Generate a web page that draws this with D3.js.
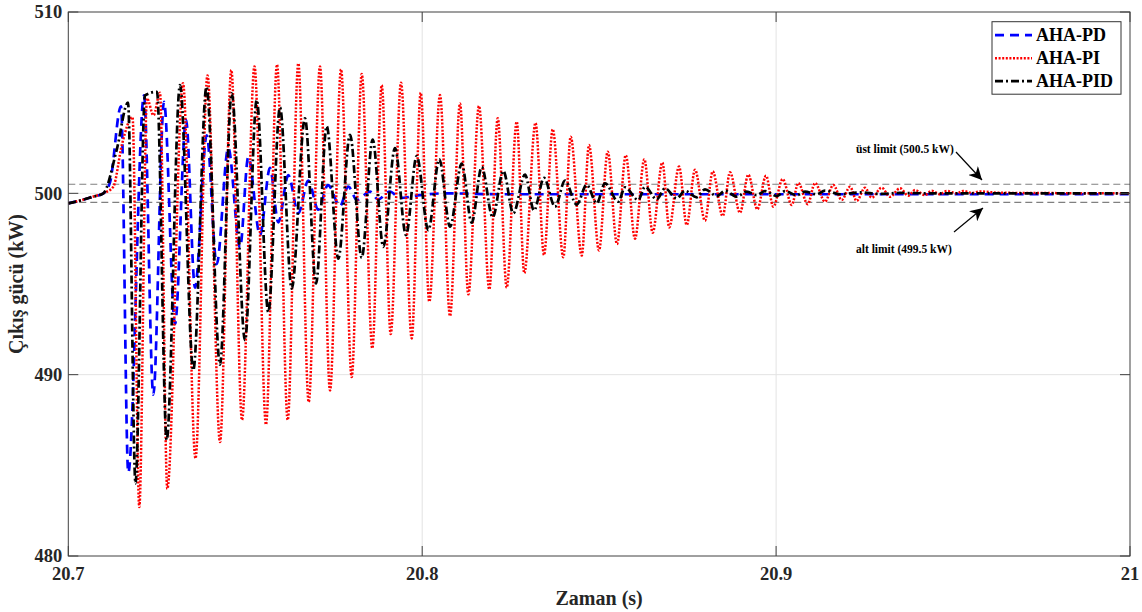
<!DOCTYPE html>
<html>
<head>
<meta charset="utf-8">
<script src="https://cdn.jsdelivr.net/npm/d3@7"></script>
<style>
  body { margin: 0; background: #fff; }
  text { font-family: "Liberation Serif", "Times New Roman", serif; font-weight: bold; }
</style>
</head>
<body>
<div id="chart"></div>
<script>
var width = 1142, height = 612;
var margin = {top: 12, right: 12, bottom: 56, left: 68.3};
var w = width - margin.left - margin.right,
    h = height - margin.top - margin.bottom;

// ---- data (time in s, power in kW) ----
var xTicks = [20.7, 20.8, 20.9, 21];
var xTickLabels = ["20.7", "20.8", "20.9", "21"];
var yTicks = [480, 490, 500, 510];
var limits = [500.5, 499.5];

var pdTime = [20.7, 20.7033, 20.7067, 20.7099, 20.71178, 20.71489, 20.71695, 20.72139, 20.72402, 20.72704,
  20.73015, 20.73326, 20.7358, 20.73911, 20.74193, 20.74521, 20.74852, 20.75086, 20.75417, 20.75699,
  20.75934, 20.76217, 20.76499, 20.76782, 20.77064, 20.77338, 20.77677, 20.77912, 20.78158, 20.78525,
  20.78751, 20.7909, 20.79373, 20.79938, 20.80644, 20.82199, 21.0];
var pdValue = [499.45, 499.6, 499.8, 500.0, 500.6, 504.8, 484.6, 505.4, 488.9, 505.05,
  492.8, 504.05, 494.8, 503.2, 496.1, 502.5, 497.0, 502.0, 497.7, 501.4,
  498.4, 501.0, 498.9, 500.7, 499.1, 500.45, 499.3, 500.37, 499.63, 500.09,
  499.67, 500.1, 499.75, 499.9, 500.0, 499.95, 499.95];

var piTime = [20.7, 20.7033, 20.7067, 20.7099, 20.71272, 20.71517, 20.71814, 20.72006, 20.72224, 20.72407,
  20.72591, 20.72797, 20.73241, 20.73594, 20.73933, 20.74287, 20.74606, 20.74908, 20.75261, 20.75586,
  20.75897, 20.762, 20.76499, 20.76793, 20.77112, 20.77395, 20.77706, 20.78008, 20.78291, 20.7859,
  20.78856, 20.7911, 20.79401, 20.79704, 20.79958, 20.80201, 20.80503, 20.80786, 20.81068, 20.81303,
  20.81605, 20.81896, 20.82134, 20.82388, 20.8267, 20.82885, 20.83202, 20.83442, 20.83688, 20.83987,
  20.84196, 20.84507, 20.84713, 20.84996, 20.85242, 20.85505, 20.85751, 20.86013, 20.86276, 20.86513,
  20.86785, 20.86982, 20.87257, 20.87474, 20.87709, 20.87991, 20.88209, 20.88491, 20.88698, 20.8898,
  20.89215, 20.89469, 20.89715, 20.89921, 20.90187, 20.90441, 20.90628, 20.90893, 20.91099, 20.91382,
  20.91617, 20.91854, 20.92089, 20.92278, 20.92512, 20.92702, 20.92984, 20.93219, 20.93501, 20.93736,
  20.93925, 20.94208, 20.94397, 20.94632, 20.94821, 20.95104, 20.9529, 20.95536, 20.95762, 20.96327, 21.0];
var piValue = [499.45, 499.6, 499.8, 500.0, 500.36, 502.7, 504.2, 482.7, 505.24, 504.3,
  505.55, 483.7, 506.07, 485.38, 506.5, 486.28, 506.8, 487.5, 507.0, 487.25,
  507.1, 487.5, 507.16, 488.49, 507.0, 489.13, 506.84, 489.87, 506.58, 491.45,
  505.97, 492.24, 506.1, 492.0, 505.55, 494.02, 505.42, 493.23, 504.96, 494.43,
  504.82, 494.7, 504.14, 494.8, 503.95, 495.6, 503.88, 496.6, 503.53, 496.47,
  503.12, 496.57, 502.66, 496.85, 502.3, 497.2, 502.1, 497.5, 501.88, 497.83,
  501.7, 498.12, 501.48, 498.25, 501.3, 498.49, 501.21, 498.75, 501.16, 498.93,
  501.03, 499.12, 500.97, 499.26, 500.79, 499.36, 500.57, 499.4, 500.57, 499.54,
  500.46, 499.63, 500.36, 499.58, 500.31, 499.76, 500.31, 499.81, 500.28, 499.87,
  500.18, 499.9, 500.14, 499.95, 500.13, 500.0, 500.13, 500.02, 500.1, 500.03, 500.0];

var pidTime = [20.7, 20.7033, 20.7067, 20.7099, 20.71368, 20.71687, 20.71899, 20.72167, 20.72506, 20.7278,
  20.73156, 20.73532, 20.73905, 20.74287, 20.74617, 20.74993, 20.75324, 20.75651, 20.75982, 20.76313,
  20.76688, 20.76999, 20.77302, 20.77629, 20.7796, 20.78291, 20.78601, 20.78901, 20.79231, 20.79542,
  20.79845, 20.80173, 20.80483, 20.80786, 20.81116, 20.81399, 20.81682, 20.81992, 20.82292, 20.82574,
  20.82905, 20.83159, 20.83442, 20.83753, 20.84035, 20.84366, 20.84648, 20.84931, 20.85165, 20.85541,
  20.85731, 20.86106, 20.86296, 20.86626, 20.86861, 20.87192, 20.87426, 20.87757, 20.87991, 20.88322,
  20.88556, 20.88887, 20.89169, 20.89452, 20.89687, 20.90017, 20.90252, 20.90582, 20.90817, 20.91148,
  20.91382, 20.91806, 20.92371, 20.92936, 20.93501, 20.94349, 21.0];
var pidValue = [499.45, 499.6, 499.8, 500.0, 502.4, 505.0, 484.0, 505.4, 505.6, 486.4,
  505.97, 490.25, 505.87, 490.55, 505.52, 491.9, 505.15, 493.45, 504.74, 494.75,
  504.14, 495.03, 503.7, 496.4, 503.23, 496.45, 502.97, 497.05, 502.5, 497.7,
  502.06, 497.97, 501.88, 498.16, 501.64, 498.38, 501.45, 498.68, 501.23, 498.9,
  501.03, 499.05, 500.85, 499.26, 500.7, 499.38, 500.47, 499.45, 500.55, 499.54,
  500.33, 499.63, 500.36, 499.67, 500.28, 499.72, 500.14, 499.78, 500.22, 499.85,
  500.14, 499.82, 500.09, 499.9, 500.12, 499.85, 500.12, 499.9, 500.09, 499.95,
  500.15, 499.95, 500.05, 499.97, 500.02, 500.0, 500.0];

var seriesNames = ["AHA-PD", "AHA-PI", "AHA-PID"];
var seriesColors = ["#0000ff", "#ff0000", "#000000"];
var seriesDash = ["9,6", "2,1.6", "8,3,2,3"];
var seriesWidth = [2.7, 2.5, 2.7];

function zip(t, v) { return t.map(function(d, i) { return {t: d, v: v[i]}; }); }
var series = [zip(pdTime, pdValue), zip(piTime, piValue), zip(pidTime, pidValue)];

var svg = d3.select("#chart").append("svg")
  .attr("width", width).attr("height", height);

var g = svg.append("g").attr("transform", "translate(" + margin.left + "," + margin.top + ")");

var x = d3.scaleLinear().domain([20.7, 21]).range([0, w]);
var y = d3.scaleLinear().domain([480, 510]).range([h, 0]);

svg.append("defs").append("clipPath").attr("id", "clip")
  .append("rect").attr("width", w).attr("height", h);

// grid
g.append("g").selectAll("line").data(xTicks.slice(1, -1)).enter().append("line")
  .attr("x1", d => x(d)).attr("x2", d => x(d)).attr("y1", 0).attr("y2", h)
  .attr("stroke", "#e3e3e3").attr("stroke-width", 1);
g.append("g").selectAll("line").data(yTicks.slice(1, -1)).enter().append("line")
  .attr("y1", d => y(d)).attr("y2", d => y(d)).attr("x1", 0).attr("x2", w)
  .attr("stroke", "#e3e3e3").attr("stroke-width", 1);

// limit lines
g.append("g").selectAll("line").data(limits).enter().append("line")
  .attr("y1", d => y(d)).attr("y2", d => y(d)).attr("x1", 0).attr("x2", w)
  .attr("stroke", "#808080").attr("stroke-width", 1.2).attr("stroke-dasharray", "7,4");

// curves
var line = d3.line().x(d => x(d.t)).y(d => y(d.v)).curve(d3.curveMonotoneX);
var plot = g.append("g").attr("clip-path", "url(#clip)");
[0, 1, 2].forEach(function(i) {
  plot.append("path")
    .datum(series[i])
    .attr("d", line)
    .attr("fill", "none")
    .attr("stroke", seriesColors[i])
    .attr("stroke-width", seriesWidth[i])
    .attr("stroke-dasharray", seriesDash[i]);
});

// axes box with inner ticks on all sides
var tickLen = 10;
var ax = g.append("g").attr("stroke", "#404040").attr("stroke-width", 1).attr("fill", "none");
ax.append("rect").attr("width", w).attr("height", h);
xTicks.forEach(function(d) {
  ax.append("line").attr("x1", x(d)).attr("x2", x(d)).attr("y1", h).attr("y2", h - tickLen);
  ax.append("line").attr("x1", x(d)).attr("x2", x(d)).attr("y1", 0).attr("y2", tickLen);
});
yTicks.forEach(function(d) {
  ax.append("line").attr("y1", y(d)).attr("y2", y(d)).attr("x1", 0).attr("x2", tickLen);
  ax.append("line").attr("y1", y(d)).attr("y2", y(d)).attr("x1", w).attr("x2", w - tickLen);
});

// tick labels
g.append("g").selectAll("text").data(xTicks).enter().append("text")
  .attr("x", d => x(d)).attr("y", h + 24)
  .attr("text-anchor", "middle").attr("font-size", 18.5).attr("fill", "#262626")
  .text((d, i) => xTickLabels[i]);
g.append("g").selectAll("text").data(yTicks).enter().append("text")
  .attr("x", -6).attr("y", d => y(d)).attr("dy", "0.35em")
  .attr("text-anchor", "end").attr("font-size", 18.5).attr("fill", "#262626")
  .text(d => d);

// axis titles
g.append("text").attr("x", w / 2).attr("y", h + 49)
  .attr("text-anchor", "middle").attr("font-size", 20).attr("fill", "#262626")
  .text("Zaman (s)");
g.append("text")
  .attr("transform", "translate(" + (-45) + "," + (h / 2) + ") rotate(-90)")
  .attr("text-anchor", "middle").attr("font-size", 20).attr("fill", "#262626")
  .text("Çıkış gücü (kW)");

// legend
var lg = g.append("g").attr("transform", "translate(" + (992 - margin.left) + "," + (21.7 - margin.top) + ")");
lg.append("rect").attr("width", 129).attr("height", 72.5)
  .attr("fill", "#fff").attr("stroke", "#333").attr("stroke-width", 1);
seriesNames.forEach(function(name, i) {
  var ry = 13.5 + i * 23;
  lg.append("line").attr("x1", 3).attr("x2", 40).attr("y1", ry).attr("y2", ry)
    .attr("stroke", seriesColors[i]).attr("stroke-width", seriesWidth[i])
    .attr("stroke-dasharray", seriesDash[i]);
  lg.append("text").attr("x", 44).attr("y", ry).attr("dy", "0.35em")
    .attr("font-size", 18).attr("fill", "#000").text(name);
});

// annotations
svg.append("defs").append("marker").attr("id", "arrow")
  .attr("viewBox", "0 0 10 10").attr("refX", 10).attr("refY", 5)
  .attr("markerWidth", 13).attr("markerHeight", 13).attr("orient", "auto")
  .attr("markerUnits", "userSpaceOnUse")
  .append("path").attr("d", "M0,0 L10,5 L0,10 L3,5 Z").attr("fill", "#000");

var notes = [
  {text: "üst limit (500.5 kW)", tx: 856, ty: 149, x1: 956, y1: 152, x2: 982, y2: 180},
  {text: "alt limit (499.5 kW)", tx: 856, ty: 249, x1: 954, y1: 232, x2: 983, y2: 208}
];
notes.forEach(function(n) {
  svg.append("text").attr("x", n.tx).attr("y", n.ty).attr("dy", "0.35em")
    .attr("font-size", 11.5).attr("fill", "#000").text(n.text);
  svg.append("line").attr("x1", n.x1).attr("y1", n.y1).attr("x2", n.x2).attr("y2", n.y2)
    .attr("stroke", "#000").attr("stroke-width", 1.2).attr("marker-end", "url(#arrow)");
});
</script>
</body>
</html>
